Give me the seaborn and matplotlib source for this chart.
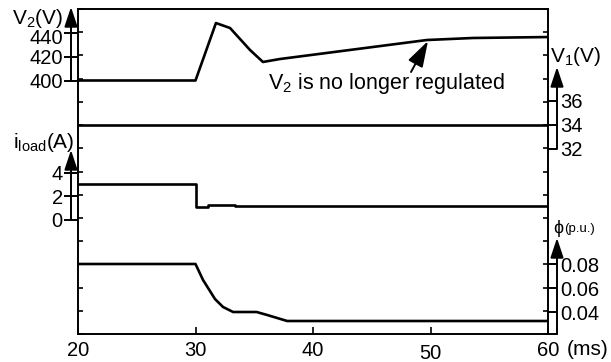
import matplotlib
matplotlib.use("Agg")
import matplotlib.pyplot as plt
import matplotlib.transforms as mtrans
import seaborn as sns

# ---------------- data ----------------
t_v2 = [20, 30.0, 31.74, 32.94, 34.64, 35.74, 37.19, 49.70, 53.62, 60]
v2 = [400, 400, 448.4, 444.2, 425.7, 415.6, 418.1, 434.1, 435.8, 436.6]

t_i = [20, 30, 30, 31.1, 31.1, 33.4, 33.4, 60]
i_load = [3.0, 3.0, 1.05, 1.05, 1.25, 1.25, 1.15, 1.15]

t_v1 = [20, 60]
v1 = [34, 34]

t_phi = [20, 30, 30.64, 31.66, 32.34, 33.2, 35.2, 36.1, 37.8, 60]
phi = [0.08, 0.08, 0.0667, 0.0508, 0.0442, 0.040, 0.040, 0.0375, 0.0325, 0.0325]

x_ticks = [20, 30, 40, 50, 60]
v2_ticks = [400, 420, 440]
i_ticks = [0, 2, 4]
v1_ticks = [32, 34, 36]
phi_ticks = [0.04, 0.06, 0.08]
phi_ticklabels = ["0.04", "0.06", "0.08"]

# ---------------- style ----------------
sns.set_style("ticks")
plt.rcParams["font.family"] = ["Liberation Sans", "DejaVu Sans"]
plt.rcParams["mathtext.default"] = "regular"

W, H = 611, 362
L, R, T, B = 78, 548, 9, 334          # axes frame in pixels
fig = plt.figure(figsize=(W / 100, H / 100), dpi=100)
ax = fig.add_axes([L / W, 1 - B / H, (R - L) / W, (B - T) / H])

TICK_FS = 14.5
LABEL_FS = 15


def lims(va, pa, vb, pb):
    """y-limits so that value va sits at pixel row pa and vb at pb."""
    s = (vb - va) / (pa - pb)
    return va - (B - pa) * s, va + (pa - T) * s


def twin(side, out_px):
    a = ax.twinx()
    a.patch.set_visible(False)
    for s in a.spines.values():
        s.set_visible(False)
    if side == "left":
        a.yaxis.tick_left()
    a.spines[side].set_position(("outward", out_px * 0.72))
    return a


LW = 1.9
K = "black"

# V2 (left, top)
a_v2 = twin("left", 7)
sns.lineplot(x=t_v2, y=v2, ax=a_v2, color=K, lw=LW, estimator=None, sort=False)
a_v2.set_ylim(*lims(400, 80.5, 440, 33))
a_v2.set_yticks(v2_ticks)

# i_load (left, middle)
a_i = twin("left", 7)
sns.lineplot(x=t_i, y=i_load, ax=a_i, color=K, lw=LW, estimator=None, sort=False)
a_i.set_ylim(*lims(0, 219.5, 4, 172.5))
a_i.set_yticks(i_ticks)

for a in (a_v2, a_i):
    a.tick_params(axis="y", direction="inout", length=10, width=1.4,
                  labelsize=TICK_FS, pad=1, colors=K)
    a.set_ylabel("")

# V1 (right, top)
a_v1 = twin("right", 9)
sns.lineplot(x=t_v1, y=v1, ax=a_v1, color=K, lw=LW, estimator=None, sort=False)
a_v1.set_ylim(*lims(36, 101, 32, 149))
a_v1.set_yticks(v1_ticks)

# phi (right, bottom)
a_phi = twin("right", 9)
sns.lineplot(x=t_phi, y=phi, ax=a_phi, color=K, lw=LW, estimator=None, sort=False)
a_phi.set_ylim(*lims(0.08, 264, 0.04, 312))
a_phi.set_yticks(phi_ticks)
a_phi.set_yticklabels(phi_ticklabels)

for a in (a_v1, a_phi):
    a.tick_params(axis="y", direction="in", length=6.5, width=1.4,
                  labelsize=TICK_FS, pad=2, colors=K)
    a.set_ylabel("")

# main frame
ax.set_xlim(20, 60)
ax.set_ylim(0, 14)
ax.set_yticks(range(15))
ax.set_yticklabels([])
ax.set_xticks(x_ticks)
ax.tick_params(axis="y", which="both", left=True, right=True, direction="in",
               length=3.6, width=1.2, colors=K)
ax.tick_params(axis="x", direction="in", length=5, width=1.2, labelsize=TICK_FS,
               pad=5, colors=K)
for s in ax.spines.values():
    s.set_visible(True)
    s.set_linewidth(1.4)
    s.set_color(K)
for a in (a_v2, a_i, a_v1, a_phi):
    a.set_xlim(20, 60)


def shift_label(lab, dy_px):
    lab.set_transform(lab.get_transform() +
                      mtrans.ScaledTranslation(0, -dy_px / 100, fig.dpi_scale_trans))


fig.canvas.draw()
for lab in a_v2.get_yticklabels():
    if lab.get_text() == "440":
        shift_label(lab, 4)
for lab in ax.get_xticklabels():
    if lab.get_text() == "50":
        shift_label(lab, 3)

# sub-axis lines with arrow heads (figure pixel coordinates)
arrow_kw = dict(arrowstyle="-|>,head_length=1.2,head_width=0.4", lw=1.4,
                color=K, shrinkA=0, shrinkB=0, mutation_scale=10)


def axis_arrow(x, y0, y1):
    ax.annotate("", xy=(x, H - y1), xytext=(x, H - y0),
                xycoords="figure pixels", textcoords="figure pixels",
                arrowprops=arrow_kw, annotation_clip=False)


axis_arrow(71, 80.5, 7)      # V2
axis_arrow(71, 219.5, 150)   # i_load
axis_arrow(557, 149, 67)     # V1
axis_arrow(557, 334, 238)    # phi
ax.annotate("", xy=(557, H - 334), xytext=(548, H - 334),
            xycoords="figure pixels", textcoords="figure pixels",
            arrowprops=dict(arrowstyle="-", lw=1.4, color=K, shrinkA=0, shrinkB=0),
            annotation_clip=False)


def ftxt(x, y, s, **kw):
    kw.setdefault("va", "baseline")
    kw.setdefault("fontsize", LABEL_FS)
    fig.text(x / W, 1 - y / H, s, color=K, **kw)


ftxt(63, 24, "V$_2$(V)", ha="right")
ftxt(75, 148, "i$_{load}$(A)", ha="right")
ftxt(550, 62, "V$_1$(V)", ha="left")
ftxt(553, 233, "\u03d5", ha="left", fontsize=13)
ftxt(564, 232, "(p.u.)", ha="left", fontsize=9.5)
ftxt(567, 355, "(ms)", ha="left")
ftxt(268, 89, "V$_2$ is no longer regulated", ha="left", fontsize=15.5)

ax.annotate("", xy=(428, H - 41), xytext=(411, H - 72),
            xycoords="figure pixels", textcoords="figure pixels",
            arrowprops=dict(arrowstyle="-|>,head_length=1.6,head_width=0.5",
                            lw=1.4, color=K, shrinkA=0, shrinkB=0,
                            mutation_scale=10),
            annotation_clip=False)

fig.savefig("out.png", dpi=100)
